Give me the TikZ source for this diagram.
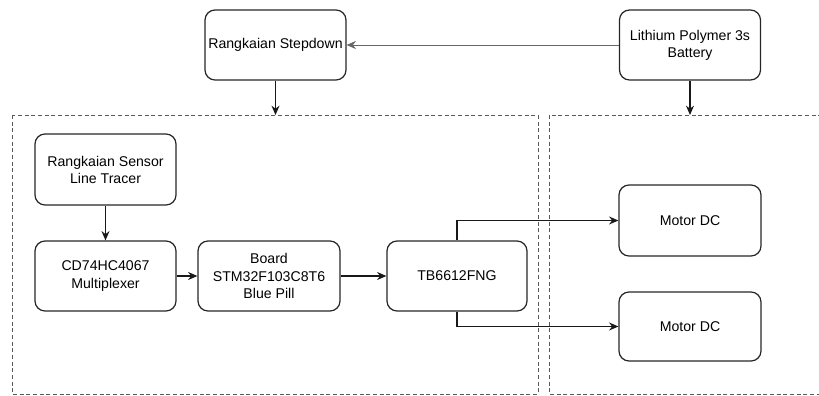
\documentclass[tikz,border=0pt]{standalone}
\usepackage{fontspec}
\setmainfont{Liberation Sans}
\usetikzlibrary{arrows.meta,calc}
\begin{document}
\begin{tikzpicture}[x=0.75pt,y=-0.75pt,
  blk/.style={draw=black!85,line width=0.9pt,rounded corners=7.5pt,align=center,inner sep=0pt,
    minimum width=141*0.75pt,minimum height=70*0.75pt,font=\fontsize{10.6pt}{12.8pt}\selectfont,text=black},
  conn/.style={draw=black!90,line width=0.85pt,-{Stealth[length=7pt,width=6pt]}},
  thin/.style={draw=black!60,line width=0.6pt,-{Stealth[length=7pt,width=6pt]}},
  grp/.style={draw=black!65,dashed,line width=0.7pt,dash pattern=on 3pt off 2pt}]
\clip (0,0) rectangle (819,396);
\useasboundingbox (0,0) rectangle (819,396);
% groups
\draw[grp] (12,115) rectangle (538,394);
\draw[grp] (549,115) rectangle (830,394);
\coordinate (g1) at (275.5,115);
\coordinate (g2) at (690,115);
% nodes
\node[blk] (step) at (275.5,45) {Rangkaian Stepdown};
\node[blk] (bat) at (690,45) {Lithium Polymer 3s\\Battery};
\node[blk,minimum height=71*0.75pt] (sens) at (105.5,169.5) {Rangkaian Sensor\\Line Tracer};
\node[blk] (mux) at (105.5,276) {CD74HC4067\\Multiplexer};
\node[blk,minimum width=142*0.75pt] (board) at (269,276) {Board\\STM32F103C8T6\\Blue Pill};
\node[blk,minimum width=140*0.75pt] (tb) at (457,276) {TB6612FNG};
\node[blk,minimum width=142*0.75pt,minimum height=71*0.75pt] (m1) at (690,220.5) {Motor DC};
\node[blk,minimum width=142*0.75pt,minimum height=69*0.75pt] (m2) at (690,326.5) {Motor DC};
% connectors
\draw[thin] (bat.west) -- (step.east);
\draw[conn] (step.south) -- (g1);
\draw[conn] (bat.south) -- (g2);
\draw[conn] (sens.south) -- (mux.north);
\draw[conn] (mux.east) -- (board.west);
\draw[conn] (board.east) -- (tb.west);
\draw[conn] (tb.north) |- (m1.west);
\draw[conn] (tb.south) |- (m2.west);
\end{tikzpicture}
\end{document}
